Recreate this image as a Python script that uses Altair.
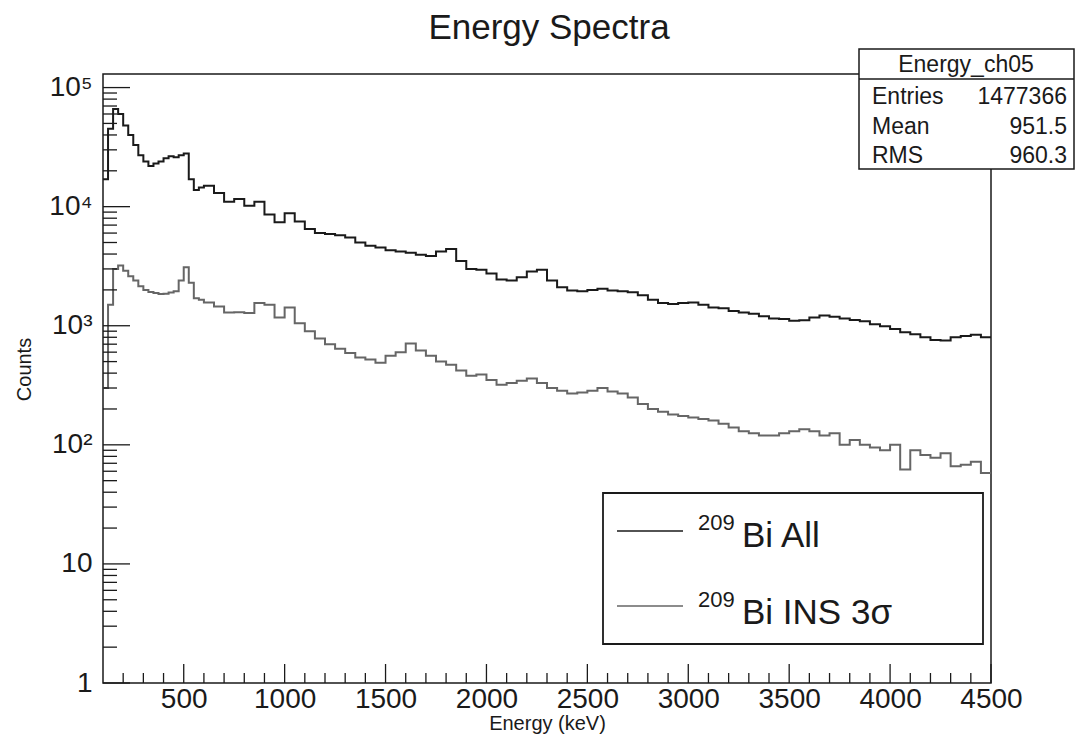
import altair as alt
import pandas as pd

# ---------------- data ----------------
series_names = ["209Bi All", "209Bi INS 3σ"]

# histogram bin lower edges (keV): 25 keV bins up to 600, 50 keV bins after; last value is the upper edge
bin_edges = list(range(100, 600, 25)) + list(range(600, 4501, 50))

counts_all = [
    17000, 45000, 66000, 60000, 48000, 40000, 33000, 27000, 24000, 22000,
    23000, 24000, 25500, 26500, 26000, 27000, 28000, 17000, 13800, 14500,
    15000, 13000, 11000, 11600, 10200, 11000, 8600, 7400,
    8800, 7500, 6500, 6000, 5900, 5750, 5500, 5000, 4700, 4550,
    4300, 4200, 4100, 3950, 3850, 4200, 4400, 3500, 3000, 2950,
    2750, 2450, 2400, 2550, 2850, 2950, 2400, 2100, 1980, 1950,
    2000, 2040, 1980, 1950, 1910, 1800, 1650, 1550, 1520, 1550,
    1570, 1500, 1420, 1400, 1330, 1290, 1260, 1200, 1150, 1140,
    1100, 1110, 1170, 1220, 1190, 1150, 1120, 1090, 1030, 990,
    940, 880, 850, 800, 760, 750, 800, 820, 840, 800,
]

counts_ins = [
    300, 1500, 3000, 3200, 2900, 2600, 2400, 2150, 2000, 1920,
    1880, 1850, 1860, 1900, 1950, 2400, 3100, 2300, 1700, 1650,
    1570, 1450, 1290, 1300, 1280, 1550, 1500, 1170,
    1420, 1050, 900, 780, 700, 640, 590, 540, 520, 490,
    560, 600, 710, 620, 560, 500, 470, 420, 380, 390,
    350, 320, 330, 345, 360, 330, 300, 285, 270, 275,
    285, 300, 280, 270, 250, 220, 200, 190, 180, 175,
    170, 165, 160, 150, 140, 130, 125, 120, 120, 125,
    130, 135, 130, 120, 125, 100, 110, 100, 95, 90,
    100, 62, 90, 82, 78, 85, 66, 68, 72, 58,
]

x_major_ticks = [500, 1000, 1500, 2000, 2500, 3000, 3500, 4000, 4500]
x_minor_ticks = [e for e in range(200, 4500, 100) if e % 500 != 0]
y_major_ticks = [1, 10, 100, 1000, 10000, 100000]
y_tick_labels = ["1", "10", "10²", "10³", "10⁴", "10⁵"]
y_minor_ticks = [m * d for d in [1, 10, 100, 1000, 10000] for m in range(2, 10)]

stats_title = "Energy_ch05"
stats_names = ["Entries", "Mean", "RMS"]
stats_values = ["1477366", "951.5", "960.3"]

# ---------------- build table ----------------
rows = []
for name, vals in zip(series_names, [counts_all, counts_ins]):
    for e, v in zip(bin_edges[:-1], vals):
        rows.append({"Energy": e, "Counts": v, "series": name})
    rows.append({"Energy": bin_edges[-1], "Counts": vals[-1], "series": name})
df = pd.DataFrame(rows)

FONT = "Liberation Sans"
W, H = 888, 609
xscale = alt.Scale(domain=[100, 4500], nice=False, zero=False)
yscale = alt.Scale(type="log", domain=[1, 130000], nice=False)

label_expr = " : ".join(
    f"datum.value == {v} ? '{l}'" for v, l in zip(y_major_ticks[:-1], y_tick_labels[:-1])
) + f" : '{y_tick_labels[-1]}'"

xaxis = alt.Axis(values=x_major_ticks, format="d", title="Energy (keV)", ticks=False, tickSize=0,
                 domain=False, grid=False, labelPadding=2, labelFontSize=28,
                 labelFont=FONT, labelColor="#1a1a1a", titleFont=FONT,
                 titleFontSize=20, titleFontWeight="normal", titleColor="#1a1a1a",
                 titleX=444, titleY=46, titleBaseline="alphabetic",
                 titleAlign="center", labelFlush=False, labelOverlap=False)
yaxis = alt.Axis(values=y_major_ticks, labelExpr=label_expr, title="Counts",
                 ticks=False, tickSize=0, domain=False, grid=False, labelPadding=11,
                 labelFontSize=28, labelFont=FONT, labelColor="#1a1a1a",
                 titleFont=FONT, titleFontSize=20, titleFontWeight="normal",
                 titleColor="#1a1a1a", titleX=-73, titleY=295, titleAngle=270,
                 titleBaseline="alphabetic", titleAlign="center", labelFlush=False,
                 labelOverlap=False)

lines = alt.Chart(df).mark_line(interpolate="step-after", strokeWidth=2).encode(
    x=alt.X("Energy:Q", scale=xscale, axis=xaxis),
    y=alt.Y("Counts:Q", scale=yscale, axis=yaxis),
    color=alt.Color("series:N", scale=alt.Scale(domain=series_names, range=["#1a1a1a", "#666666"]),
                    legend=None),
    detail="series:N",
)

def tick_df(vals):
    return pd.DataFrame({"v": vals})

ymaj = alt.Chart(tick_df(y_major_ticks)).mark_rule(color="#1a1a1a", strokeWidth=1.3).encode(
    y=alt.Y("v:Q", scale=yscale, axis=yaxis), x=alt.value(0), x2=alt.value(27))
ymin = alt.Chart(tick_df(y_minor_ticks)).mark_rule(color="#1a1a1a", strokeWidth=1.3).encode(
    y=alt.Y("v:Q", scale=yscale, axis=yaxis), x=alt.value(0), x2=alt.value(14))
xmaj = alt.Chart(tick_df(x_major_ticks)).mark_rule(color="#1a1a1a", strokeWidth=1.3).encode(
    x=alt.X("v:Q", scale=xscale, axis=xaxis), y=alt.value(H), y2=alt.value(H - 19))
xmin = alt.Chart(tick_df(x_minor_ticks)).mark_rule(color="#1a1a1a", strokeWidth=1.3).encode(
    x=alt.X("v:Q", scale=xscale, axis=xaxis), y=alt.value(H), y2=alt.value(H - 10))

one = alt.Data(values=[{"a": 1}])

def box(x1, x2, y1, y2, sw=1.5):
    return alt.Chart(one).mark_rect(fill="white", stroke="#1a1a1a", strokeWidth=sw).encode(
        x=alt.value(x1), x2=alt.value(x2), y=alt.value(y1), y2=alt.value(y2))

def txt(s, x, y, size, align="left", color="#1a1a1a"):
    return alt.Chart(one).mark_text(text=s, font=FONT, fontSize=size, align=align,
                                    baseline="alphabetic", color=color).encode(
        x=alt.value(x), y=alt.value(y))

def seg(x1, x2, y1, y2, color="#1a1a1a", sw=1.5):
    return alt.Chart(one).mark_rule(color=color, strokeWidth=sw).encode(
        x=alt.value(x1), x2=alt.value(x2), y=alt.value(y1), y2=alt.value(y2))

# title
title = txt("Energy Spectra", 446, -35, 35, align="center")

# stats box
stats = [box(756, 971, -25, 95), seg(756, 971, 5, 5), txt(stats_title, 863, -2, 23, "center")]
for i, (n, v) in enumerate(zip(stats_names, stats_values)):
    yb = 30 + i * 29.5
    stats.append(txt(n, 769, yb, 23))
    stats.append(txt(v, 964, yb, 23, "right"))

# legend box
leg = [box(500, 880, 419, 570, 1.8),
       seg(514, 580, 457, 457, "#1a1a1a", 1.5), seg(514, 580, 532, 532, "#666666", 1.5),
       txt("209", 595, 456, 22), txt("Bi All", 639, 473, 35),
       txt("209", 595, 533, 22), txt("Bi INS 3σ", 639, 550, 35)]

chart = alt.layer(lines, ymaj, ymin, xmaj, xmin, title, *stats, *leg).properties(
    width=W, height=H,
    padding={"left": 95, "top": 66, "right": 84, "bottom": 51},
    autosize=alt.AutoSizeParams(type="none"),
    background="white",
).configure_view(stroke="#1a1a1a", strokeWidth=1.5)

chart.save("out.html", embed_options={"renderer": "svg", "actions": False})
